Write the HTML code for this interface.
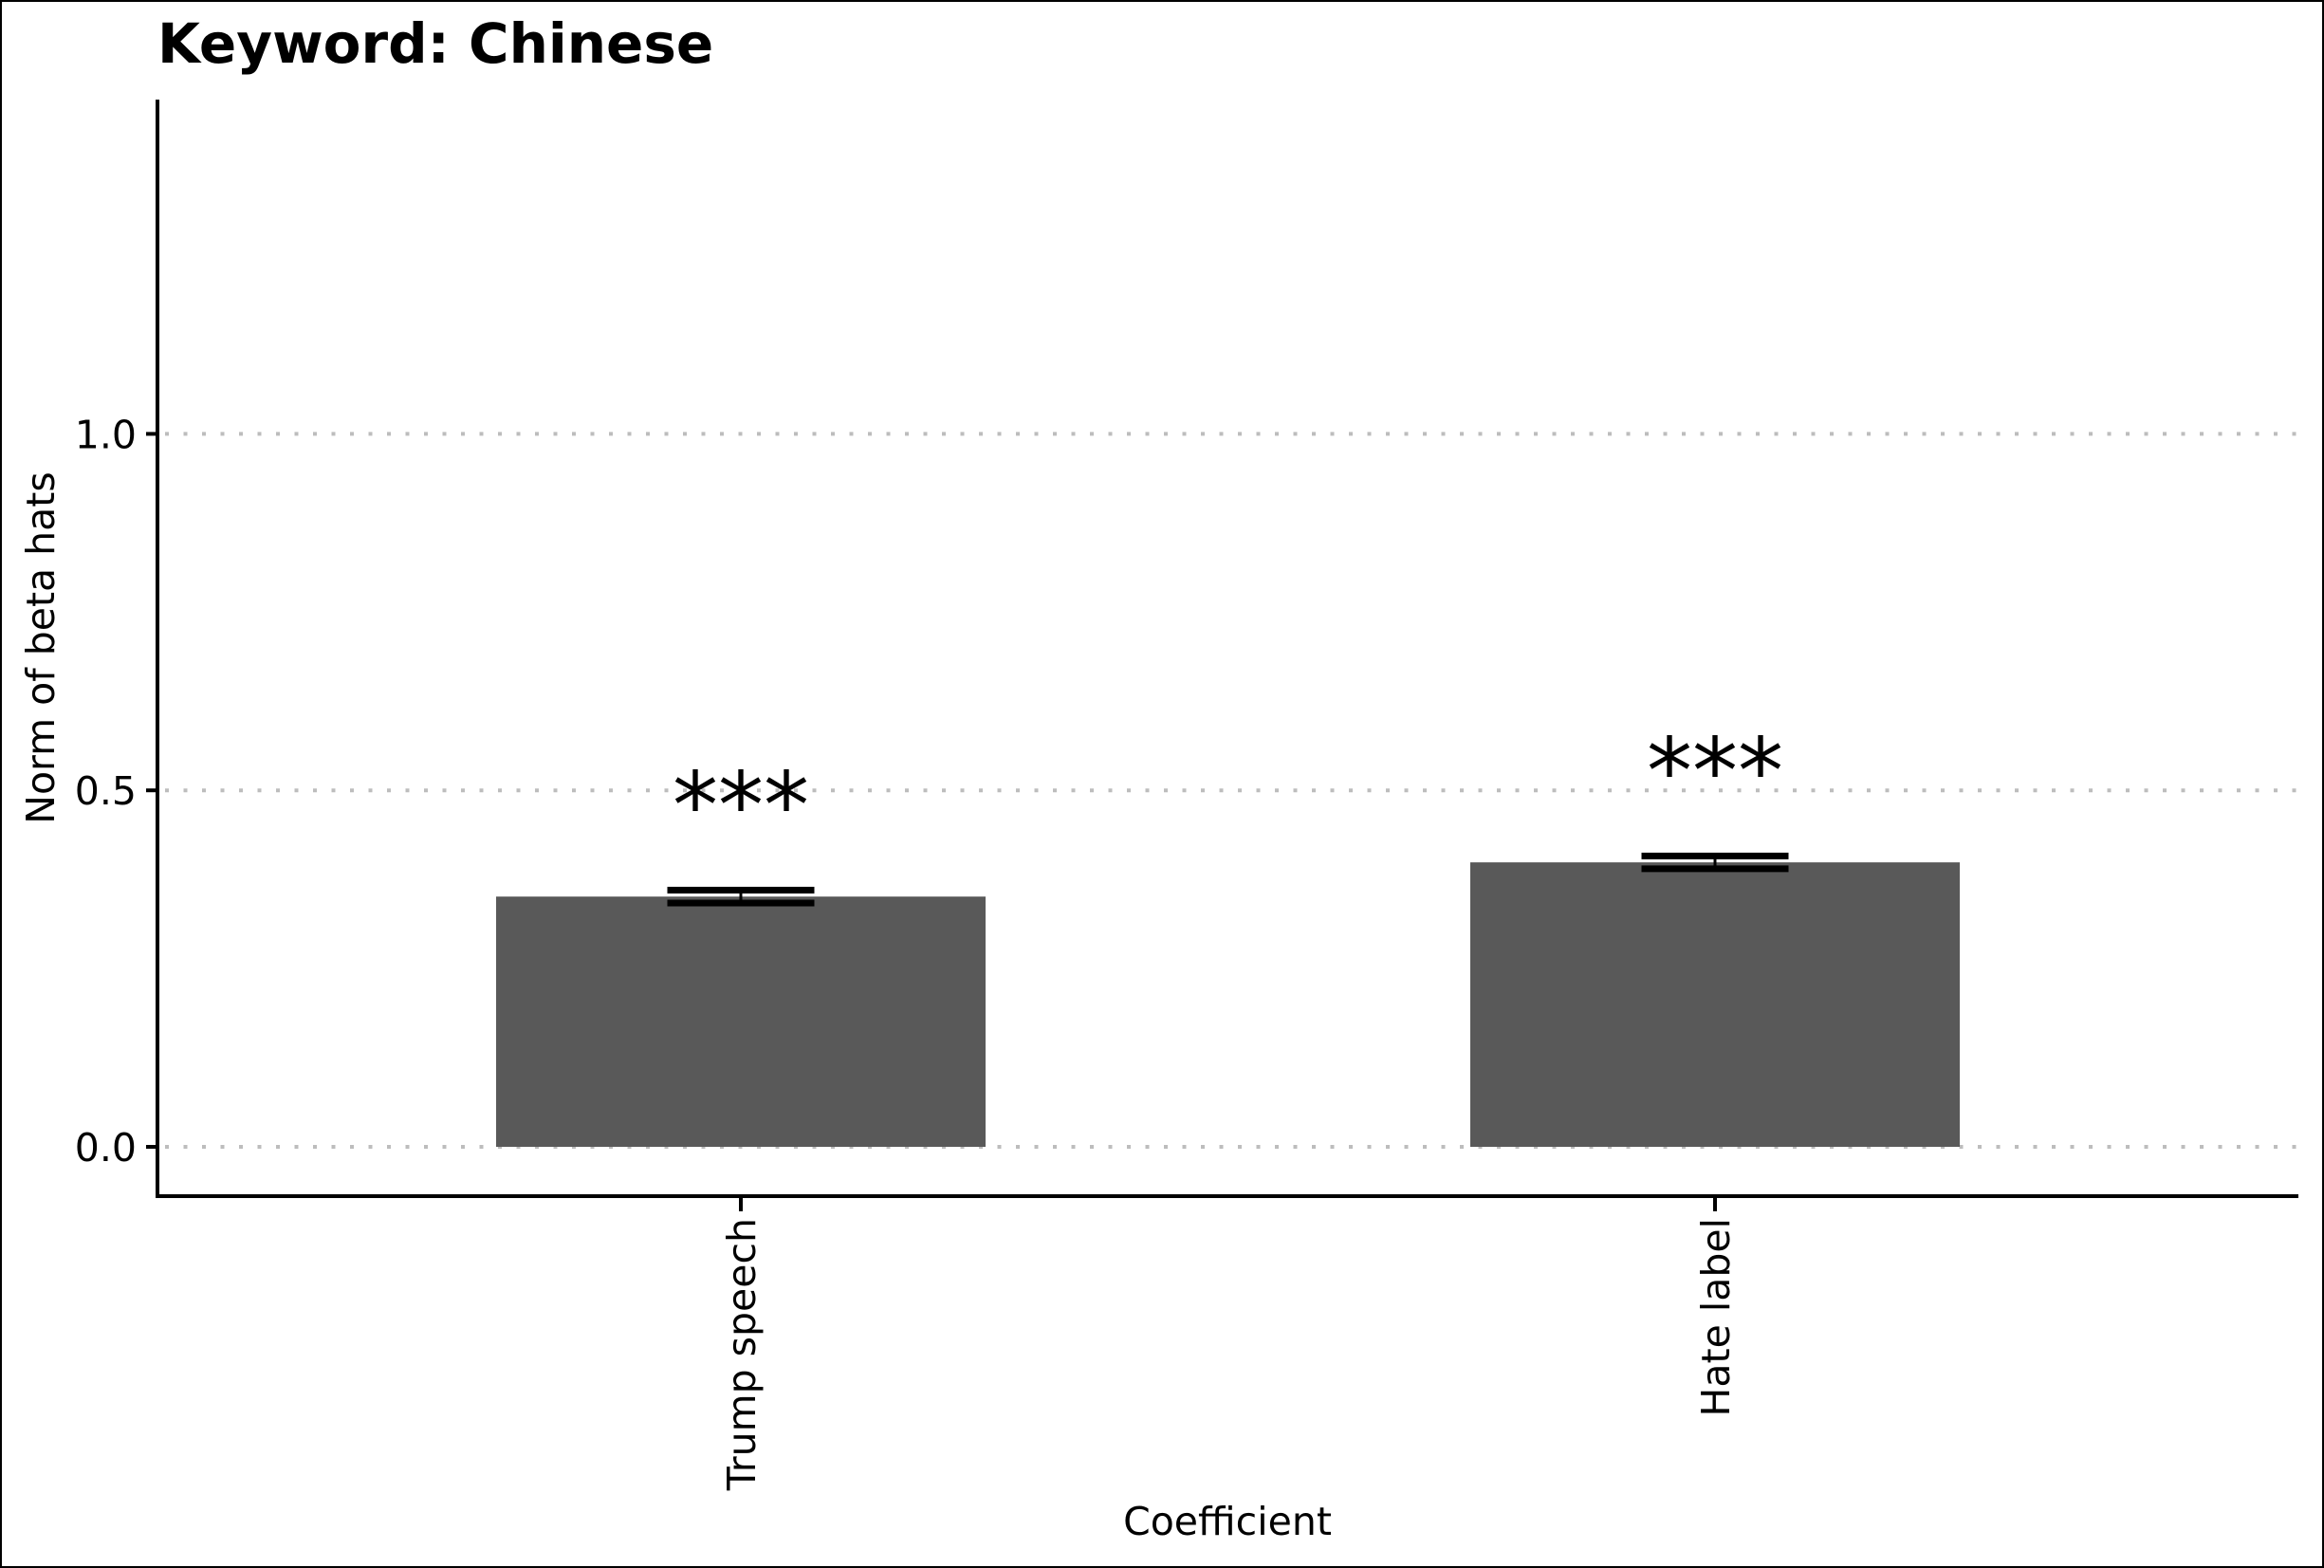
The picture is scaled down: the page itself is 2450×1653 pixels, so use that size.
<!DOCTYPE html>
<html><head><meta charset="utf-8"><style>
html,body{margin:0;padding:0;background:#fff}
svg{display:block}
text{font-family:"DejaVu Sans","Liberation Sans",sans-serif}
</style></head><body>
<svg id="chart" width="2450" height="1653" viewBox="0 0 2450 1653" xmlns="http://www.w3.org/2000/svg">
<rect x="1" y="1" width="2448" height="1651" fill="#fff" stroke="#000" stroke-width="2"/>
<text x="166" y="66" font-size="58" font-weight="bold">Keyword: Chinese</text>
<g id="grid"></g>
<g id="bars"></g>
<g id="axes"></g>
<text x="1294" y="1618" font-size="41" text-anchor="middle">Coefficient</text>
<text transform="translate(57,683) rotate(-90)" font-size="41" text-anchor="middle">Norm of beta hats</text>
</svg>
<script>
const categories = ["Trump speech", "Hate label"];
const values = [0.351, 0.399];
const errors = [0.009, 0.009];
const stars = ["***", "***"];
const yTicks = [0.0, 0.5, 1.0];
const yTickLabels = ["0.0", "0.5", "1.0"];

const NS = "http://www.w3.org/2000/svg";
const X0 = 166, X1 = 2423, YTOP = 105, YBOT = 1261;
const y = v => 1209 - v * 751.6;
const xc = i => 781 + i * 1027;
const BW = 516, CW = 155;
function mk(tag, attrs, parent){const e=document.createElementNS(NS,tag);for(const k in attrs)e.setAttribute(k,attrs[k]);parent.appendChild(e);return e;}
const grid=document.getElementById('grid'), bars=document.getElementById('bars'), axes=document.getElementById('axes');

yTicks.forEach((t,i)=>{
  const g=mk('line',{x1:X0+8,x2:X1,y1:y(t),y2:y(t),stroke:'#bdbdbd','stroke-width':4,'stroke-dasharray':'4 15.5'},grid);
  
  
  const tk=mk('line',{x1:X0-12,x2:X0,y1:y(t),y2:y(t),stroke:'#000','stroke-width':4},axes);
  
  
  const lb=mk('text',{x:X0-22,y:y(t)+15,'font-size':41,'text-anchor':'end'},axes);
  lb.textContent=yTickLabels[i];
  
  
});

categories.forEach((c,i)=>{
  const cx=xc(i);
  const r=mk('rect',{x:cx-BW/2,y:y(values[i]),width:BW,height:y(0)-y(values[i]),fill:'#595959'},bars);
  
  
  const eg=mk('g',{stroke:'#000','stroke-width':7},bars);
  
  
  const hi=y(values[i]+errors[i]), lo=y(values[i]-errors[i]);
  mk('line',{x1:cx-CW/2,x2:cx+CW/2,y1:hi,y2:hi},eg);
  mk('line',{x1:cx-CW/2,x2:cx+CW/2,y1:lo,y2:lo},eg);
  mk('line',{x1:cx,x2:cx,y1:hi,y2:lo,'stroke-width':3},eg);
  const s=mk('text',{x:cx,y:hi-56,'font-size':96,'text-anchor':'middle'},bars);
  s.textContent=stars[i];
  
  
  const tk=mk('line',{x1:cx,x2:cx,y1:YBOT,y2:YBOT+16,stroke:'#000','stroke-width':4},axes);
  
  
  const lb=mk('text',{transform:`translate(${cx+15},${YBOT+23}) rotate(-90)`,'font-size':41,'text-anchor':'end'},axes);
  lb.textContent=c;
  
  
});

const ya=mk('line',{x1:X0,x2:X0,y1:YTOP,y2:YBOT+2,stroke:'#000','stroke-width':4},axes);


const xa=mk('line',{x1:X0-2,x2:X1,y1:YBOT,y2:YBOT,stroke:'#000','stroke-width':4},axes);


</script>
</body></html>
